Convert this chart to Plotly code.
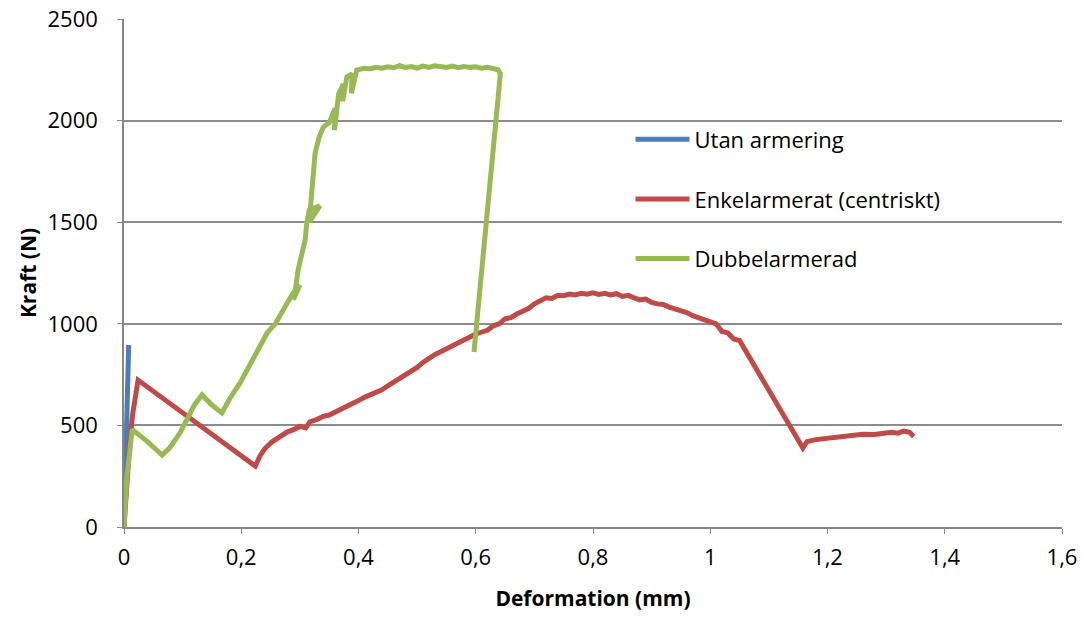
import plotly.graph_objects as go

# ---- data ----
utan_x = [0, 0.002, 0.004, 0.006, 0.008, 0.007]
utan_y = [0, 220, 470, 700, 895, 880]

enkel_x = [0, 0.005, 0.010, 0.008, 0.015, 0.024, 0.224, 0.232, 0.24, 0.252, 0.265, 0.278, 0.29, 0.30,
           0.31, 0.317, 0.33, 0.34, 0.35, 0.36, 0.37, 0.38, 0.39, 0.40, 0.41, 0.42, 0.43, 0.44, 0.45,
           0.46, 0.47, 0.48, 0.49, 0.50, 0.51, 0.52, 0.53, 0.54, 0.55, 0.56, 0.57, 0.58, 0.59, 0.60,
           0.61, 0.62, 0.63, 0.64, 0.65, 0.66, 0.67, 0.68, 0.69, 0.70, 0.71, 0.72, 0.73, 0.74, 0.75,
           0.76, 0.77, 0.78, 0.79, 0.80, 0.81, 0.82, 0.83, 0.84, 0.85, 0.86, 0.87, 0.88, 0.89, 0.90,
           0.91, 0.92, 0.93, 0.94, 0.95, 0.96, 0.97, 0.98, 0.99, 1.00, 1.01, 1.02, 1.03, 1.04, 1.05,
           1.158, 1.165, 1.18, 1.20, 1.22, 1.24, 1.26, 1.28, 1.30, 1.31, 1.32, 1.33, 1.34, 1.347]
enkel_y = [0, 180, 420, 370, 560, 723, 300, 350, 385, 418, 445, 467, 480, 495,
           488, 517, 530, 545, 551, 565, 575, 588, 605, 622, 638, 650, 665, 675, 695,
           713, 725, 745, 765, 785, 810, 830, 848, 862, 878, 892, 905, 922, 935, 950,
           958, 968, 990, 1000, 1025, 1030, 1048, 1062, 1075, 1098, 1115, 1128, 1125, 1140, 1138,
           1146, 1142, 1150, 1146, 1152, 1145, 1150, 1142, 1148, 1135, 1140, 1128, 1118, 1122, 1105,
           1098, 1095, 1082, 1075, 1068, 1055, 1040, 1030, 1018, 1009, 1000, 962, 955, 925, 918,
           389, 420, 430, 438, 446, 450, 456, 455, 462, 466, 462, 472, 466, 445]

dubbel_x = [0, 0.005, 0.014, 0.04, 0.065, 0.078, 0.095, 0.107, 0.12, 0.133, 0.15, 0.167, 0.18, 0.198,
            0.22, 0.244, 0.258, 0.278, 0.288, 0.300, 0.289, 0.293, 0.297, 0.303, 0.309, 0.312, 0.316,
            0.334, 0.316, 0.321, 0.326, 0.333, 0.340, 0.350, 0.360, 0.359, 0.366, 0.374, 0.373, 0.380,
            0.389, 0.388, 0.397, 0.41, 0.42, 0.43, 0.44, 0.45, 0.46, 0.47, 0.48, 0.49, 0.50, 0.51,
            0.52, 0.53, 0.54, 0.55, 0.56, 0.57, 0.58, 0.59, 0.60, 0.61, 0.62, 0.63, 0.638, 0.642, 0.597]
dubbel_y = [0, 250, 480, 420, 354, 390, 460, 527, 600, 650, 600, 561, 630, 709,
            822, 955, 1000, 1102, 1150, 1191, 1120, 1180, 1265, 1340, 1412, 1500, 1560,
            1580, 1500, 1673, 1840, 1920, 1968, 1990, 2060, 1953, 2130, 2180, 2095, 2214,
            2230, 2135, 2249, 2258, 2255, 2262, 2258, 2265, 2260, 2270, 2262, 2266, 2258, 2268,
            2262, 2270, 2265, 2262, 2268, 2260, 2266, 2262, 2265, 2258, 2262, 2255, 2250, 2230, 861]

x_ticks = [0, 0.2, 0.4, 0.6, 0.8, 1.0, 1.2, 1.4, 1.6]
x_tick_labels = ["0", "0,2", "0,4", "0,6", "0,8", "1", "1,2", "1,4", "1,6"]
y_ticks = [0, 500, 1000, 1500, 2000, 2500]

FONT = "'Open Sans', Lato, sans-serif"

fig = go.Figure()
series = [
    ("Utan armering", utan_x, utan_y, "#4A7EBB"),
    ("Enkelarmerat (centriskt)", enkel_x, enkel_y, "#BE4B48"),
    ("Dubbelarmerad", dubbel_x, dubbel_y, "#98B954"),
]
for i, (name, xs, ys, col) in enumerate(series):
    fig.add_trace(go.Scatter(x=xs, y=ys, mode="lines", name=name, legendgroup=f"g{i}",
                             line=dict(color=col, width=5)))

fig.update_layout(
    width=1084, height=619,
    margin=dict(l=124, r=22, t=19, b=92, autoexpand=False),
    paper_bgcolor="white", plot_bgcolor="white",
    font=dict(family=FONT, size=22, color="#000000"),
    showlegend=True,
    legend=dict(x=0.540, y=0.804, xanchor="left", yanchor="top",
                bgcolor="rgba(0,0,0,0)", font=dict(size=22, family=FONT),
                traceorder="grouped", tracegroupgap=28, itemwidth=54),
    xaxis=dict(range=[0, 1.6], tickvals=x_ticks, ticktext=x_tick_labels, automargin=False,
               showgrid=False, zeroline=False, showline=True, linecolor="#868686", linewidth=1.5,
               ticks="outside", ticklen=5, tickcolor="#868686", ticklabelstandoff=5,
               title=dict(text="<b>Deformation (mm)</b>", font=dict(size=21, family=FONT), standoff=21),
               tickfont=dict(size=22, family=FONT)),
    yaxis=dict(range=[0, 2500], tickvals=y_ticks, automargin=False,
               showgrid=True, gridcolor="#8c8c8c", gridwidth=1.5, zeroline=False,
               showline=True, linecolor="#868686", linewidth=1.5,
               ticks="outside", ticklen=5, tickcolor="#868686", ticklabelstandoff=15,
               title=dict(text="<b>Kraft (N)</b>", font=dict(size=21, family=FONT), standoff=5),
               tickfont=dict(size=22, family=FONT)),
)

fig.write_html("out.html", config={"displayModeBar": False},
               post_script="document.body.style.margin='0';")
